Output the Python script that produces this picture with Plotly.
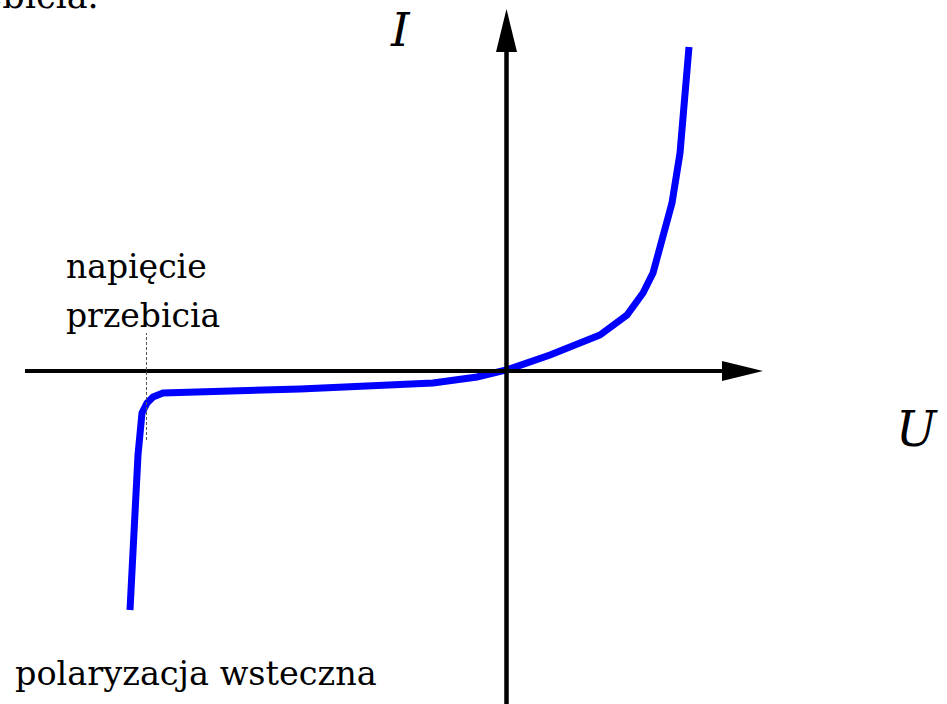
import plotly.graph_objects as go

# Diode current-voltage characteristic, arbitrary units
U = [-7.53, -7.37, -7.29, -7.19, -7.07, -6.87, -4.13, -1.47, -0.59, 0.0,
     0.87, 1.87, 2.41, 2.73, 2.93, 3.11, 3.31, 3.47, 3.57, 3.65]
I = [-4.78, -1.68, -0.84, -0.64, -0.52, -0.44, -0.36, -0.24, -0.12, 0.02,
     0.32, 0.72, 1.12, 1.56, 1.96, 2.62, 3.36, 4.36, 5.36, 6.48]
U_BREAKDOWN = -7.2

W, H = 947, 704
X_RANGE = [-10.13, 8.81]
Y_RANGE = [-6.66, 7.42]
SERIF = "DejaVu Serif"


def px(x):
    return x / W


def py(y):
    return 1 - y / H


fig = go.Figure()
fig.add_trace(go.Scatter(
    x=U, y=I, mode="lines",
    line=dict(color="#0000ff", width=7, shape="linear"),
    hoverinfo="skip", showlegend=False,
))

black = dict(color="black", width=4)
shapes = [
    # U axis with arrowhead
    dict(type="line", x0=-9.63, x1=4.4, y0=0, y1=0, line=black),
    dict(type="path", path="M 4.31,-0.2 L 5.13,0 L 4.31,0.2 Z",
         fillcolor="black", line=dict(width=0)),
    # I axis with arrowhead
    dict(type="line", x0=0, x1=0, y0=-7.5, y1=6.45, line=dict(color="black", width=4.5)),
    dict(type="path", path="M -0.21,6.38 L 0,7.24 L 0.21,6.38 Z",
         fillcolor="black", line=dict(width=0)),
    # breakdown voltage marker
    dict(type="line", x0=U_BREAKDOWN, x1=U_BREAKDOWN, y0=-1.38, y1=0.76,
         line=dict(color="#555555", width=1, dash="3px,2px")),
]
for s in shapes:
    s.update(xref="x", yref="y", layer="above")


def label(text, x, y, size, xanchor="left", italic=False):
    return dict(
        text=f"<i>{text}</i>" if italic else text,
        x=px(x), y=py(y), xref="paper", yref="paper",
        xanchor=xanchor, yanchor="middle", showarrow=False,
        font=dict(family=SERIF, size=size, color="black"),
    )


annotations = [
    label("przebicia.", 101, -4, 35, xanchor="right"),
    label("I", 400, 30, 47, xanchor="center", italic=True),
    label("U", 917, 429, 48, xanchor="center", italic=True),
    label("napięcie", 64, 266, 33),
    label("przebicia", 64, 315, 33),
    label("polaryzacja wsteczna", 13, 673, 33.5),
]

fig.update_layout(
    width=W, height=H,
    margin=dict(l=0, r=0, t=0, b=0),
    paper_bgcolor="white", plot_bgcolor="white",
    xaxis=dict(range=X_RANGE, visible=False, fixedrange=True),
    yaxis=dict(range=Y_RANGE, visible=False, fixedrange=True),
    shapes=shapes, annotations=annotations,
)

fig.write_html("out.html")
